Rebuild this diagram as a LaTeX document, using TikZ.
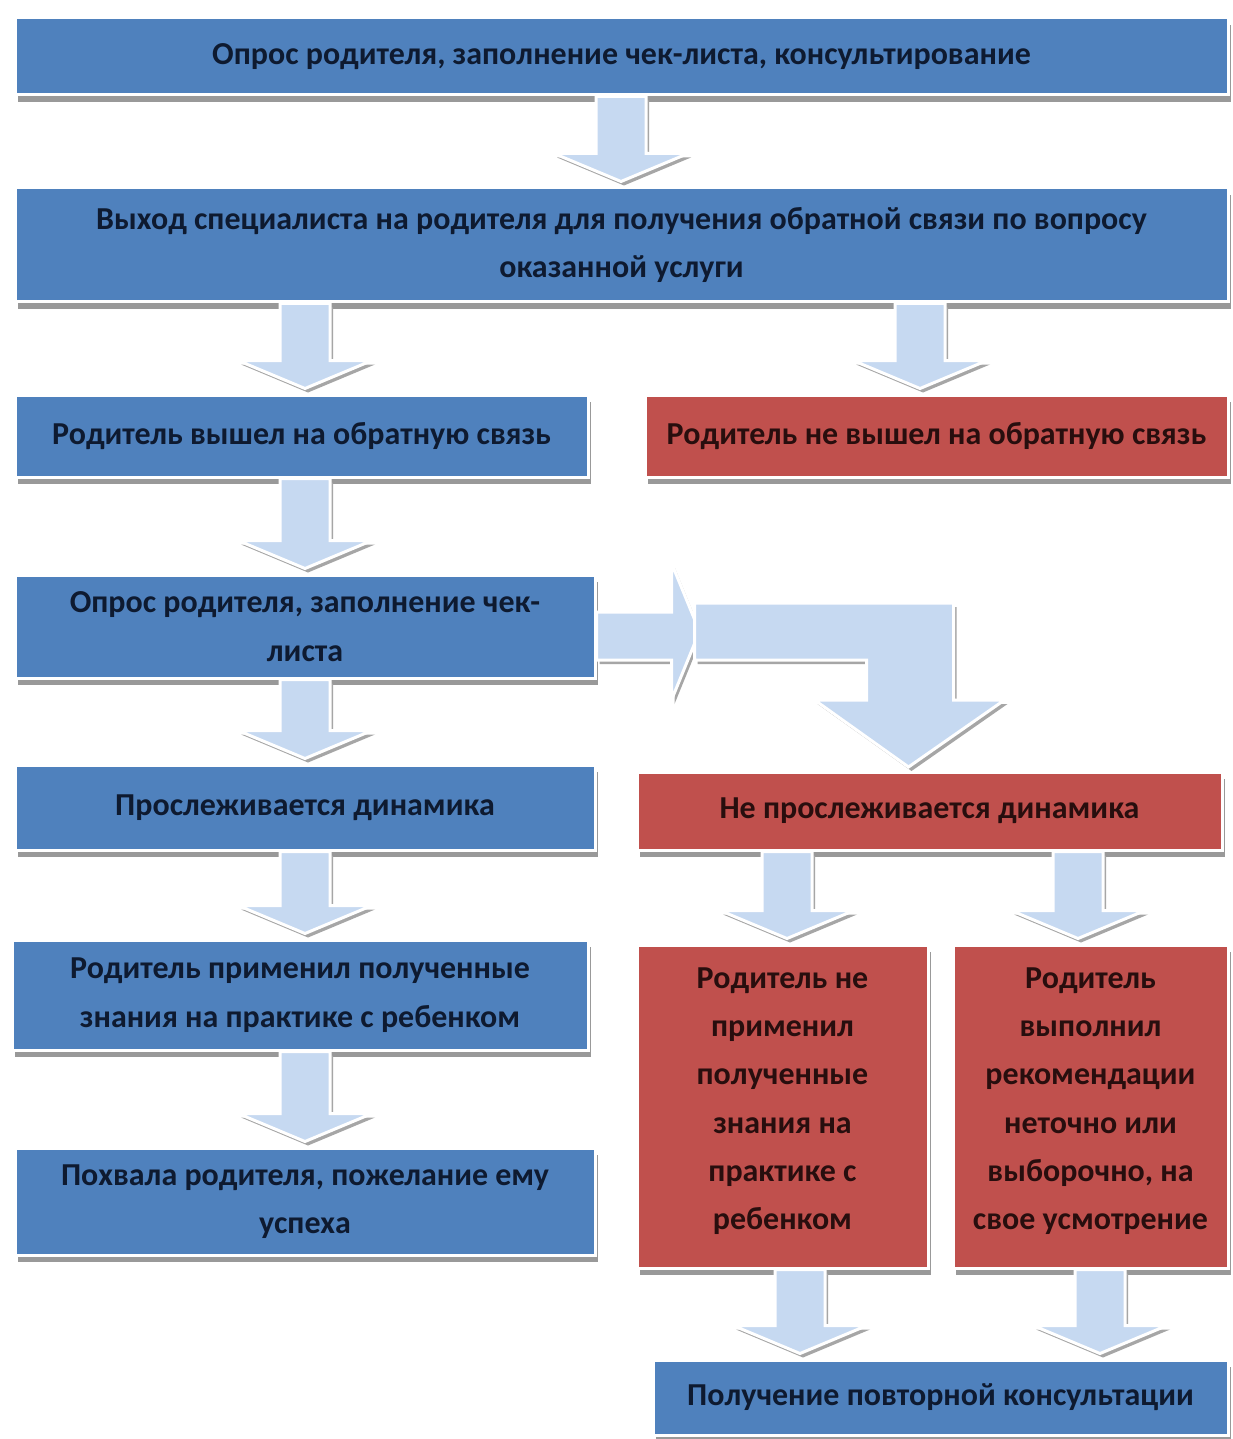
\documentclass[tikz,border=0pt]{standalone}
\usepackage{fontspec}
\setmainfont{Carlito}
\usetikzlibrary{calc,shadows}
\definecolor{boxblue}{RGB}{79,129,189}
\definecolor{boxred}{RGB}{192,80,77}
\definecolor{arrowblue}{RGB}{198,217,241}
\definecolor{textnavy}{RGB}{14,26,48}
\definecolor{textdark}{RGB}{40,14,14}
\newlength{\px}
\setlength{\px}{0.02cm}
\newcommand{\blockdown}[2]{%
	\path[arrowblock] let \p1=#1, \p2=#2 in
		({\x1-25\px},\y1) -- ({\x1-25\px},{\y2+33\px}) -- ({\x1-67\px},{\y2+33\px}) -- (\x1,{\y2+5\px})
		-- ({\x1+67\px},{\y2+33\px}) -- ({\x1+25\px},{\y2+33\px}) -- ({\x1+25\px},\y1) -- cycle;}
\tikzset{
	flowbox/.style={draw=white, line width=3\px, inner sep=0pt, align=center,
		font=\fontsize{18.2}{27.5}\selectfont\bfseries,
		drop shadow={shadow xshift=3\px, shadow yshift=-7\px, fill=black!40, opacity=1}},
	bluebox/.style={flowbox, fill=boxblue, text=textnavy},
	redbox/.style={flowbox, fill=boxred, text=textdark},
	arrowblock/.style={fill=arrowblue, draw=white, line width=3\px, line join=miter,
		drop shadow={shadow xshift=3\px, shadow yshift=-4\px, fill=black!35, opacity=1}}
}
\begin{document}
\begin{tikzpicture}[x=0.02cm,y=-0.02cm]
	\useasboundingbox[fill=white] (0,0) rectangle (1232,1439);

	\coordinate (colM) at (621,0);
	\coordinate (colL) at (305,0);
	\coordinate (colR) at (920,0);
	\coordinate (colRa) at (787,0);
	\coordinate (colRb) at (1078,0);
	\coordinate (colBa) at (800,0);
	\coordinate (colBb) at (1100,0);

	\node[bluebox, minimum width=1213\px, minimum height=77\px] (opros) at (621.5,56.5) {Опрос родителя, заполнение чек-листа, консультирование};
	\node[bluebox, minimum width=1213\px, minimum height=114\px] (vyhod) at (621.5,245) {Выход специалиста на родителя для получения обратной связи по вопросу\\оказанной услуги};
	\node[bluebox, minimum width=573\px, minimum height=82\px] (vyshel) at (301.5,436) {Родитель вышел на обратную связь};
	\node[redbox, minimum width=583\px, minimum height=82\px] (nevyshel) at (936.5,436) {Родитель не вышел на обратную связь};
	\node[bluebox, minimum width=580\px, minimum height=103\px] (opros2) at (305,626.5) {Опрос родителя, заполнение чек-\\листа};
	\node[bluebox, minimum width=580\px, minimum height=85\px] (dinam) at (305,807.5) {Прослеживается динамика};
	\node[redbox, minimum width=585\px, minimum height=78\px] (nedinam) at (929.5,811) {Не прослеживается динамика};
	\node[bluebox, minimum width=576\px, minimum height=110\px] (primenil) at (300,995) {Родитель применил полученные\\знания на практике с ребенком};
	\node[bluebox, minimum width=580\px, minimum height=107\px] (pohvala) at (305,1201.5) {Похвала родителя, пожелание ему\\успеха};
	\node[redbox, minimum width=291\px, minimum height=323\px, text depth=16\px] (neprim) at (782.5,1106.5) {Родитель не\\применил\\полученные\\знания на\\практике с\\ребенком};
	\node[redbox, minimum width=275\px, minimum height=323\px, text depth=16\px] (netochno) at (1090.5,1106.5) {Родитель\\выполнил\\рекомендации\\неточно или\\выборочно, на\\свое усмотрение};
	\node[bluebox, minimum width=575\px, minimum height=75\px] (povtor) at (940.5,1397.5) {Получение повторной консультации};

	\blockdown{(opros.south -| colM)}{(vyhod.north -| colM)}
	\blockdown{(vyhod.south -| colL)}{(vyshel.north -| colL)}
	\blockdown{(vyhod.south -| colR)}{(nevyshel.north -| colR)}
	\blockdown{(vyshel.south -| colL)}{(opros2.north -| colL)}
	\blockdown{(opros2.south -| colL)}{(dinam.north -| colL)}
	\blockdown{(dinam.south -| colL)}{(primenil.north -| colL)}
	\blockdown{(primenil.south -| colL)}{(pohvala.north -| colL)}
	\blockdown{(nedinam.south -| colRa)}{(neprim.north -| colRa)}
	\blockdown{(nedinam.south -| colRb)}{(netochno.north -| colRb)}
	\blockdown{(neprim.south -| colBa)}{(povtor.north -| colBa)}
	\blockdown{(netochno.south -| colBb)}{(povtor.north -| colBb)}

	\path[arrowblock, shift={(opros2.east)}] (0,-14.5) -- (75,-14.5) -- (75,-63.5) -- (103,5) -- (75,73.5) -- (75,33.5) -- (0,33.5) -- cycle;
	\path[arrowblock, shift={(opros2.east)}] (98,-23.5) -- (357,-23.5) -- (357,73.5) -- (408,73.5) -- (312,140.5)
		-- (218,73.5) -- (270,73.5) -- (270,33.5) -- (98,33.5) -- cycle;
\end{tikzpicture}
\end{document}
